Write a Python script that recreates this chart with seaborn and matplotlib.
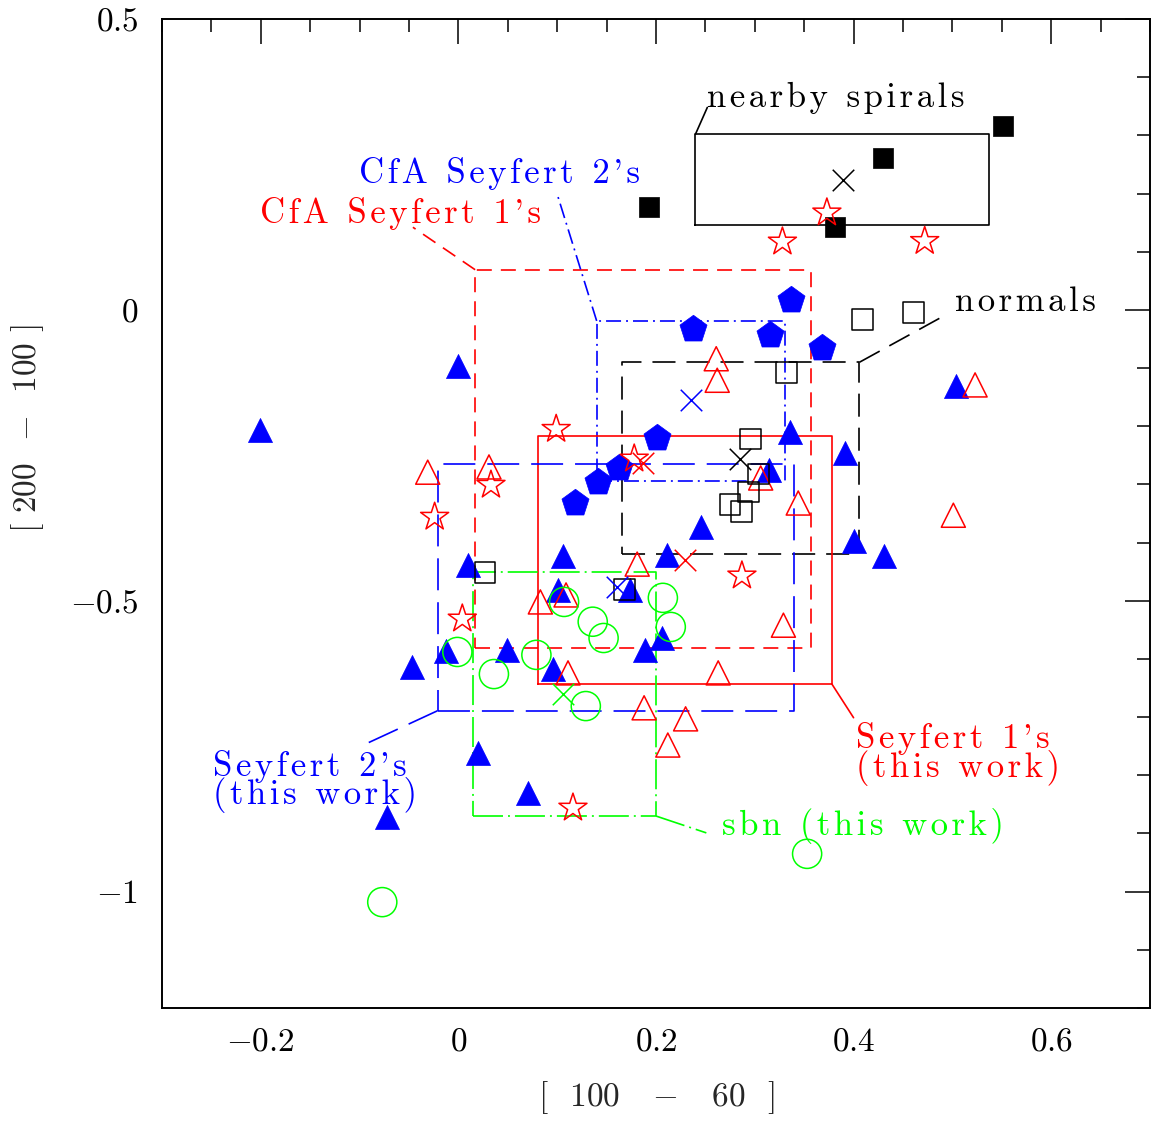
import matplotlib
matplotlib.use("Agg")
import matplotlib.pyplot as plt
import seaborn as sns
from matplotlib.ticker import MultipleLocator, FuncFormatter

# --- data: x = [100-60], y = [200-100] ---
sy2_x = [-0.201, -0.000, 0.010, -0.047, -0.012, 0.106, 0.101, 0.049, 0.096, 0.020, 0.070, -0.072,
         0.174, 0.189, 0.206, 0.211, 0.246, 0.336, 0.314, 0.391, 0.400, 0.431, 0.504]
sy2_y = [-0.206, -0.096, -0.438, -0.614, -0.586, -0.423, -0.481, -0.585, -0.617, -0.762, -0.830, -0.872,
         -0.481, -0.585, -0.564, -0.421, -0.373, -0.210, -0.275, -0.246, -0.397, -0.423, -0.131]

cfa2_x = [0.118, 0.141, 0.163, 0.201, 0.238, 0.315, 0.368, 0.337]
cfa2_y = [-0.332, -0.296, -0.272, -0.220, -0.033, -0.043, -0.065, 0.017]

sy1_x = [-0.031, 0.031, 0.261, 0.262, 0.306, 0.344, 0.181, 0.523, 0.501, 0.083, 0.109, 0.111,
         0.188, 0.230, 0.212, 0.263, 0.329]
sy1_y = [-0.279, -0.270, -0.084, -0.121, -0.289, -0.332, -0.437, -0.129, -0.353, -0.502, -0.490, -0.624,
         -0.684, -0.703, -0.748, -0.624, -0.542]

cfa1_x = [-0.024, 0.033, 0.004, 0.099, 0.178, 0.287, 0.116, 0.328, 0.373, 0.472]
cfa1_y = [-0.356, -0.301, -0.531, -0.205, -0.256, -0.457, -0.856, 0.117, 0.167, 0.118]

norm_x = [0.027, 0.168, 0.296, 0.304, 0.294, 0.275, 0.287, 0.332, 0.409, 0.461]
norm_y = [-0.452, -0.481, -0.222, -0.282, -0.313, -0.334, -0.346, -0.108, -0.017, -0.005]

spiral_x = [0.193, 0.430, 0.381, 0.551]
spiral_y = [0.177, 0.261, 0.142, 0.316]

sbn_x = [-0.077, -0.001, 0.036, 0.079, 0.107, 0.136, 0.147, 0.129, 0.207, 0.215, 0.353]
sbn_y = [-1.018, -0.588, -0.626, -0.593, -0.502, -0.536, -0.564, -0.681, -0.495, -0.545, -0.935]

# crosses (sample means)
mean_sy2_x, mean_sy2_y = [0.235, 0.161], [-0.155, -0.476]
mean_sy1_x, mean_sy1_y = [0.187, 0.229], [-0.263, -0.430]
mean_blk_x, mean_blk_y = [0.389, 0.285], [0.223, -0.256]
mean_sbn_x, mean_sbn_y = [0.106], [-0.660]

# boxes: x0, x1, y0, y1
box_cfa1 = [0.017, 0.357, -0.581, 0.069]
box_cfa2 = [0.140, 0.331, -0.294, -0.019]
box_norm = [0.166, 0.406, -0.420, -0.090]
box_sy1 = [0.081, 0.378, -0.643, -0.217]
box_sy2 = [-0.021, 0.340, -0.689, -0.265]
box_sbn = [0.015, 0.200, -0.870, -0.450]
box_spiral = [0.240, 0.537, 0.146, 0.302]

RED, BLUE, GREEN, BLACK = "#ff0000", "#0000ff", "#00ff00", "#000000"

sns.set_theme(style="white")
plt.rcParams['font.family'] = ['cmr10', 'DejaVu Serif']
plt.rcParams['mathtext.fontset'] = 'cm'
plt.rcParams['axes.formatter.use_mathtext'] = True
plt.rcParams['lines.scale_dashes'] = False

fig = plt.figure(figsize=(11.51, 11.23), dpi=100)
ax = fig.add_axes([0.1407, 0.1024, 0.8584, 0.8807])


def spaced(t):
    # wide letter spacing like the original plotting package
    return "\u200a".join(t)


def draw_box(b, color, dashes, leader):
    x0, x1, y0, y1 = b
    kw = dict(color=color, lw=1.2, zorder=2)
    if dashes:
        kw['dashes'] = dashes
    ax.plot([x0, x1, x1, x0, x0], [y0, y0, y1, y1, y0], **kw)
    ax.plot(leader[0], leader[1], **kw)


draw_box(box_cfa1, RED, (10.8, 6.5), ([0.017, -0.046], [0.069, 0.142]))
draw_box(box_cfa2, BLUE, (10.8, 3.6, 1.4, 3.6), ([0.140, 0.100], [-0.019, 0.199]))
draw_box(box_norm, BLACK, (16.6, 7.9), ([0.406, 0.495], [-0.090, -0.007]))
draw_box(box_sy1, RED, None, ([0.378, 0.400], [-0.643, -0.701]))
draw_box(box_sy2, BLUE, (23, 8.6), ([-0.021, -0.100], [-0.689, -0.751]))
draw_box(box_sbn, GREEN, (21.6, 3.6, 1.4, 3.6), ([0.200, 0.251], [-0.870, -0.899]))
draw_box(box_spiral, BLACK, None, ([0.240, 0.252], [0.302, 0.348]))

# filled symbols
sns.scatterplot(x=sy2_x, y=sy2_y, marker='^', s=300, color=BLUE, edgecolor=BLUE, linewidth=0.5, ax=ax, zorder=3)
sns.scatterplot(x=cfa2_x, y=cfa2_y, marker='p', s=420, color=BLUE, edgecolor=BLUE, linewidth=0.5, ax=ax, zorder=3)
sns.scatterplot(x=spiral_x, y=spiral_y, marker='s', s=225, color=BLACK, edgecolor=BLACK, linewidth=0.5, ax=ax, zorder=3)

# open symbols
sns.scatterplot(x=sy1_x, y=sy1_y, marker='^', s=300, facecolor='none', edgecolor=RED, linewidth=1.1, ax=ax, zorder=4)
sns.scatterplot(x=cfa1_x, y=cfa1_y, marker='*', s=450, facecolor='none', edgecolor=RED, linewidth=1.1, ax=ax, zorder=4)
sns.scatterplot(x=norm_x, y=norm_y, marker='s', s=225, facecolor='none', edgecolor=BLACK, linewidth=1.1, ax=ax, zorder=4)
sns.scatterplot(x=sbn_x, y=sbn_y, marker='o', s=440, facecolor='none', edgecolor=GREEN, linewidth=1.1, ax=ax, zorder=4)

# means
for mx, my, c in [(mean_sy2_x, mean_sy2_y, BLUE), (mean_sy1_x, mean_sy1_y, RED),
                  (mean_blk_x, mean_blk_y, BLACK), (mean_sbn_x, mean_sbn_y, GREEN)]:
    sns.scatterplot(x=mx, y=my, marker='x', s=240, color=c, linewidth=1.1, ax=ax, zorder=5)

fs = 25
ax.text(0.252, 0.349, spaced("nearby spirals"), color=BLACK, fontsize=fs)
ax.text(0.042, 0.218, spaced("CfA Seyfert 2's"), color=BLUE, fontsize=fs, ha='center')
ax.text(-0.059, 0.149, spaced("CfA Seyfert 1's"), color=RED, fontsize=fs, ha='center')
ax.text(0.503, -0.002, spaced("normals"), color=BLACK, fontsize=fs)
ax.text(0.402, -0.753, spaced("Seyfert 1's"), color=RED, fontsize=fs)
ax.text(0.402, -0.803, spaced("(this work)"), color=RED, fontsize=fs)
ax.text(0.267, -0.903, spaced("sbn (this work)"), color=GREEN, fontsize=fs)
ax.text(-0.248, -0.801, spaced("Seyfert 2's"), color=BLUE, fontsize=fs)
ax.text(-0.248, -0.849, spaced("(this work)"), color=BLUE, fontsize=fs)

ax.set_xlim(-0.3, 0.7)
ax.set_ylim(-1.2, 0.5)
ax.xaxis.set_major_locator(MultipleLocator(0.2))
ax.xaxis.set_minor_locator(MultipleLocator(0.05))
ax.yaxis.set_major_locator(MultipleLocator(0.5))
ax.yaxis.set_minor_locator(MultipleLocator(0.1))
fmt = FuncFormatter(lambda v, p: "$%s$" % ("%g" % round(v, 3)))
ax.xaxis.set_major_formatter(fmt)
ax.yaxis.set_major_formatter(fmt)
ax.tick_params(which='both', direction='in', top=True, right=True, colors=BLACK, width=1.1)
ax.tick_params(which='major', length=18, labelsize=24)
ax.tick_params(which='minor', length=9.4)
ax.tick_params(axis='x', pad=14)
ax.tick_params(axis='y', pad=17)
for sp in ax.spines.values():
    sp.set_color(BLACK)
    sp.set_linewidth(1.4)

ax.set_xlabel("[  100   $-$   60  ]", fontsize=24, va='center')
ax.set_ylabel("[ 200  $-$  100 ]", fontsize=24, va='center')
ax.xaxis.set_label_coords(0.5, -0.091)
ax.yaxis.set_label_coords(-0.136, 0.586)
if ax.get_legend():
    ax.get_legend().remove()

fig.savefig("out.png", dpi=100)
